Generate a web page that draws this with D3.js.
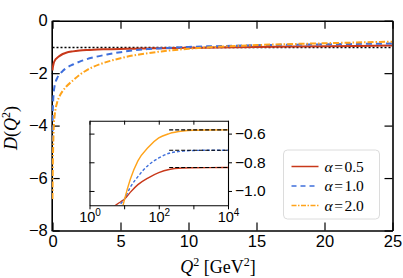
<!DOCTYPE html>
<html>
<head>
<meta charset="utf-8">
<script src="https://cdn.jsdelivr.net/npm/d3@7"></script>
<style>
  body { margin: 0; background: #fff; }
  svg { display: block; }
  .tick text { font-family: "Liberation Sans", Arial, sans-serif; }
</style>
</head>
<body>
<svg id="chart" width="403" height="278"></svg>
<script>
// main panel data
const q2Main = [0, 0.02, 0.05, 0.1, 0.15, 0.25, 0.35, 0.5, 0.75, 1, 1.5, 2, 2.5, 3, 4, 5, 6, 7, 8, 10, 12, 15, 20, 25];
const dRed = [-1.9, -1.8, -1.71, -1.6, -1.54, -1.46, -1.41, -1.35, -1.27, -1.22, -1.17, -1.14, -1.12, -1.105, -1.09, -1.078, -1.068, -1.058, -1.05, -1.035, -1.02, -1.0, -0.975, -0.95];
const dBlue = [-4.6, -3.5, -3.05, -2.68, -2.5, -2.3, -2.18, -2.06, -1.92, -1.81, -1.67, -1.56, -1.47, -1.4, -1.29, -1.2, -1.13, -1.08, -1.05, -1.0, -0.97, -0.935, -0.9, -0.87];
const dOrange = [-6.8, -5.6, -4.8, -3.95, -3.65, -3.3, -3.1, -2.9, -2.68, -2.52, -2.28, -2.06, -1.89, -1.76, -1.57, -1.43, -1.32, -1.24, -1.17, -1.07, -1.0, -0.93, -0.86, -0.8];
const asymMain = -1;

// inset data (log Q^2 axis)
const q2Inset = [3, 5, 8, 10, 15, 25, 50, 100, 200, 500, 1000, 3000, 10000];
const iRed = [-1.17, -1.11, -1.075, -1.06, -1.01, -0.956, -0.908, -0.872, -0.85, -0.84, -0.838, -0.837, -0.836];
const iBlue = [-1.35, -1.2, -1.09, -1.06, -0.975, -0.9, -0.82, -0.77, -0.737, -0.722, -0.718, -0.716, -0.716];
const iOrange = [-1.7, -1.45, -1.17, -1.07, -0.92, -0.79, -0.695, -0.63, -0.6, -0.582, -0.577, -0.575, -0.574];
const iAsym = [-0.836, -0.716, -0.574];

const alphas = ["0.5", "1.0", "2.0"];
const xTicks = [0, 5, 10, 15, 20, 25];
const yTicks = [0, -2, -4, -6, -8];
const insetYTicks = [-0.6, -0.8, -1.0];

const colors = ["#c8381a", "#3f6fdc", "#ffa31a"];
const dashes = [null, "6,4", "6,2,1.5,2"];

const svg = d3.select("#chart");

const x = d3.scaleLinear().domain([0, 25]).range([52.5, 392.5]);
const y = d3.scaleLinear().domain([-8, 0]).range([230.5, 20.7]);

const line = d3.line()
  .x((d) => x(d[0]))
  .y((d) => y(d[1]))
  .curve(d3.curveMonotoneX);

svg.append("clipPath").attr("id", "mainclip")
  .append("rect").attr("x", x(0) - 0.5).attr("y", y(0))
  .attr("width", x(25) - x(0)).attr("height", y(-8) - y(0));

// main axes
const fs = "16.5px";
const gB = svg.append("g").attr("transform", `translate(0,${y(-8)})`)
  .call(d3.axisBottom(x).tickValues(xTicks).tickSize(-8).tickPadding(5).tickSizeOuter(0));
const gT = svg.append("g").attr("transform", `translate(0,${y(0)})`)
  .call(d3.axisTop(x).tickValues(xTicks).tickSize(-8).tickFormat("").tickSizeOuter(0));
const gL = svg.append("g").attr("transform", `translate(${x(0) - 0.8},0)`)
  .call(d3.axisLeft(y).tickValues(yTicks).tickSize(-8).tickPadding(4).tickSizeOuter(0));
const gR = svg.append("g").attr("transform", `translate(${x(25)},0)`)
  .call(d3.axisRight(y).tickValues(yTicks).tickSize(-8).tickFormat("").tickSizeOuter(0));
[gB, gT, gL, gR].forEach((g) => {
  g.select(".domain").attr("stroke-width", 1.6);
  g.selectAll(".tick line").attr("stroke-width", 1.2);
  g.selectAll(".tick text").attr("font-size", fs).attr("fill", "#000");
});

// asymptote
svg.append("line")
  .attr("x1", x(0)).attr("x2", x(25))
  .attr("y1", Math.round(y(asymMain)) + 0.5).attr("y2", Math.round(y(asymMain)) + 0.5)
  .attr("stroke", "#000").attr("stroke-width", 1.5)
  .attr("stroke-dasharray", "2,2");

const seriesMain = [dRed, dBlue, dOrange];
seriesMain.forEach((vals, i) => {
  svg.append("path")
    .datum(q2Main.map((q, j) => [q, vals[j]]))
    .attr("clip-path", "url(#mainclip)")
    .attr("fill", "none")
    .attr("stroke", colors[i])
    .attr("stroke-width", 2)
    .attr("stroke-dasharray", dashes[i])
    .attr("d", line);
});

// axis labels
svg.append("text")
  .attr("x", 218).attr("y", 273)
  .attr("text-anchor", "middle")
  .attr("font-family", "Liberation Serif, serif").attr("font-size", "18px")
  .call((t) => {
    t.append("tspan").attr("font-style", "italic").text("Q");
    t.append("tspan").attr("font-size", "12px").attr("dy", -7).text("2");
    t.append("tspan").attr("dy", 7).text(" [GeV");
    t.append("tspan").attr("font-size", "12px").attr("dy", -7).text("2");
    t.append("tspan").attr("dy", 7).text("]");
  });

svg.append("text")
  .attr("transform", "translate(17,128) rotate(-90)")
  .attr("text-anchor", "middle")
  .attr("font-family", "Liberation Serif, serif").attr("font-size", "18px")
  .call((t) => {
    t.append("tspan").attr("font-style", "italic").text("D");
    t.append("tspan").text("(");
    t.append("tspan").attr("font-style", "italic").text("Q");
    t.append("tspan").attr("font-size", "12px").attr("dy", -7).text("2");
    t.append("tspan").attr("dy", 7).text(")");
  });

// inset
const xi = d3.scaleLog().domain([1, 1e4]).range([89.5, 228]);
const yi = d3.scaleLinear().domain([-1.1, -0.51]).range([205.3, 120.7]);
const inset = svg.append("g");
inset.append("rect")
  .attr("x", xi(1)).attr("y", yi(-0.51))
  .attr("width", xi(1e4) - xi(1)).attr("height", yi(-1.1) - yi(-0.51))
  .attr("fill", "#fff");
svg.append("clipPath").attr("id", "insetclip")
  .append("rect").attr("x", xi(1)).attr("y", yi(-0.51))
  .attr("width", xi(1e4) - xi(1)).attr("height", yi(-1.1) - yi(-0.51));

const iline = d3.line()
  .x((d) => xi(d[0]))
  .y((d) => yi(d[1]))
  .curve(d3.curveMonotoneX);

const insetDash = [null, "3,2", null];
[iRed, iBlue, iOrange].forEach((vals, i) => {
  inset.append("path")
    .datum(q2Inset.map((q, j) => [q, vals[j]]))
    .attr("clip-path", "url(#insetclip)")
    .attr("fill", "none")
    .attr("stroke", colors[i])
    .attr("stroke-width", 1.4)
    .attr("stroke-dasharray", insetDash[i])
    .attr("d", iline);
  inset.append("line")
    .attr("x1", xi(200)).attr("x2", xi(1e4))
    .attr("y1", yi(iAsym[i])).attr("y2", yi(iAsym[i]))
    .attr("stroke", "#000").attr("stroke-width", 1.1)
    .attr("stroke-dasharray", "4,2");
});

const decades = [1, 10, 100, 1000, 10000];
const ib = inset.append("g").attr("transform", `translate(0,${yi(-1.1)})`)
  .call(d3.axisBottom(xi).tickValues(decades).tickSize(4).tickFormat("").tickSizeOuter(0));
ib.selectAll(".tick").each(function (d, i) {
  if (i % 2) return;
  const t = d3.select(this).append("text")
    .attr("y", 17).attr("text-anchor", "middle")
    .attr("font-size", "14.5px").attr("fill", "#000");
  t.append("tspan").text("10");
  t.append("tspan").attr("font-size", "10px").attr("dy", -6).text(Math.round(Math.log10(d)));
});
const it = inset.append("g").attr("transform", `translate(0,${yi(-0.51)})`)
  .call(d3.axisTop(xi).tickValues(decades).tickSize(-4).tickFormat("").tickSizeOuter(0));
const il = inset.append("g").attr("transform", `translate(${xi(1)},0)`)
  .call(d3.axisLeft(yi).tickValues(insetYTicks).tickSize(-5).tickFormat("").tickSizeOuter(0));
const ir = inset.append("g").attr("transform", `translate(${xi(1e4)},0)`)
  .call(d3.axisRight(yi).tickValues(insetYTicks).tickSize(4).tickPadding(3)
    .tickFormat(d3.format(".1f")).tickSizeOuter(0));
[ib, it, il, ir].forEach((g) => {
  g.select(".domain").attr("stroke-width", 1.1);
});
ir.selectAll(".tick text").attr("font-size", "15.5px").attr("fill", "#000");

// legend
const lg = svg.append("g").attr("transform", "translate(283.5,150)");
lg.append("rect")
  .attr("width", 96).attr("height", 69).attr("rx", 4)
  .attr("fill", "#fff").attr("fill-opacity", 0.85)
  .attr("stroke", "#dcdcdc").attr("stroke-width", 1);
alphas.forEach((a, i) => {
  const yy = 16.5 + i * 19.5;
  lg.append("line")
    .attr("x1", 8).attr("x2", 35).attr("y1", yy).attr("y2", yy)
    .attr("stroke", colors[i]).attr("stroke-width", 1.5)
    .attr("stroke-dasharray", i === 1 ? "5,4" : i === 2 ? "5,1.5,1.5,1.5" : null);
  const t = lg.append("text")
    .attr("x", 41).attr("y", yy + 5)
    .attr("font-family", "Liberation Serif, serif").attr("font-size", "15.5px");
  t.append("tspan").attr("font-style", "italic").text("α");
  t.append("tspan").attr("dx", 1.5).text("=");
  t.append("tspan").attr("dx", 1.5).text(a);
});
</script>
</body>
</html>
